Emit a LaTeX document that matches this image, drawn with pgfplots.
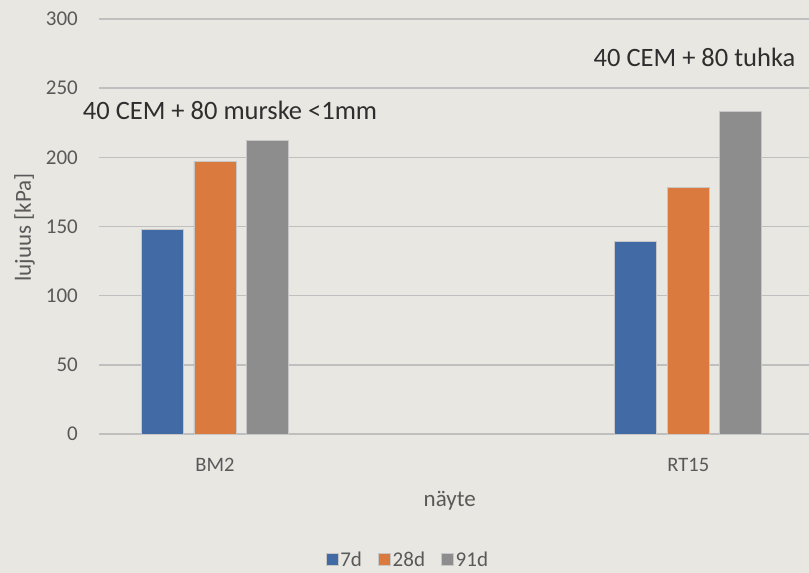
\documentclass[border=0pt]{standalone}
\usepackage{pgfplots}
\pgfplotsset{compat=1.18}
\usepackage{fontspec}
\setmainfont{Carlito}
\definecolor{bgc}{HTML}{E8E7E2}
\definecolor{gridc}{HTML}{BFBFBF}
\definecolor{cblue}{HTML}{426AA5}
\definecolor{corange}{HTML}{DB7A3E}
\definecolor{cgray}{HTML}{8C8D8C}
\definecolor{ticktxt}{HTML}{595959}
\definecolor{anntxt}{HTML}{2E2E2E}
\begin{document}
\begin{tikzpicture}
\fill[bgc] (-99pt,-139pt) rectangle (710pt,434pt);
\begin{axis}[
  at={(0pt,0pt)}, anchor=south west,
  scale only axis, width=710pt, height=415pt,
  xmin=-0.245, xmax=1.255, ymin=0, ymax=300,
  axis line style={draw=none},
  ymajorgrids, grid style={gridc, line width=1.6pt},
  ytick={0,50,...,300},
  xtick={0,1}, xticklabels={BM2,RT15},
  major tick length=0pt,
  tick style={draw=none},
  /pgf/number format/assume math mode=true,
  yticklabel style={font=\fontsize{21}{24}\selectfont, text=ticktxt, anchor=east, inner sep=0pt, xshift=-21pt},
  xticklabel style={font=\fontsize{20.5}{24}\selectfont, text=ticktxt, anchor=base, inner sep=0pt, yshift=-37pt},
  ylabel={lujuus [kPa]},
  ylabel style={at={(axis description cs:-0.105,0.4976)}, anchor=center, font=\fontsize{23}{26}\selectfont, text=ticktxt, inner sep=0pt},
  xlabel={näyte},
  xlabel style={at={(axis description cs:0.494,-0.1735)}, anchor=base, font=\fontsize{23}{26}\selectfont, text=ticktxt, inner sep=0pt},
  bar width=0.0887,
  legend columns=3,
  legend style={at={(axis description cs:0.435,-0.303)}, anchor=center, draw=none, fill=none,
    font=\fontsize{21}{24}\selectfont, text=ticktxt,
    /tikz/every even column/.append style={column sep=14pt}},
  legend image code/.code={\fill[#1] (0pt,-6pt) rectangle (12pt,6pt);},
  clip=false,
]
\addplot[ybar, bar shift=-0.111, fill=cblue, draw=black!22, line width=0.7pt] coordinates {(0,148) (1,139)};
\addplot[ybar, bar shift=0, fill=corange, draw=black!22, line width=0.7pt] coordinates {(0,197) (1,178)};
\addplot[ybar, bar shift=0.110, fill=cgray, draw=black!22, line width=0.7pt] coordinates {(0,212) (1,233)};
\legend{7d,28d,91d}
\node[anchor=base, font=\fontsize{26.5}{30}\selectfont, text=anntxt, inner sep=0pt] at (axis cs:0.0318,227) {40 CEM + 80 murske <1mm};
\node[anchor=base, font=\fontsize{26.5}{30}\selectfont, text=anntxt, inner sep=0pt] at (axis cs:1.0132,265.5) {40 CEM + 80 tuhka};
\end{axis}
\pgfresetboundingbox
\path[use as bounding box] (-99pt,-139pt) rectangle (710pt,434pt);
\end{tikzpicture}
\end{document}
